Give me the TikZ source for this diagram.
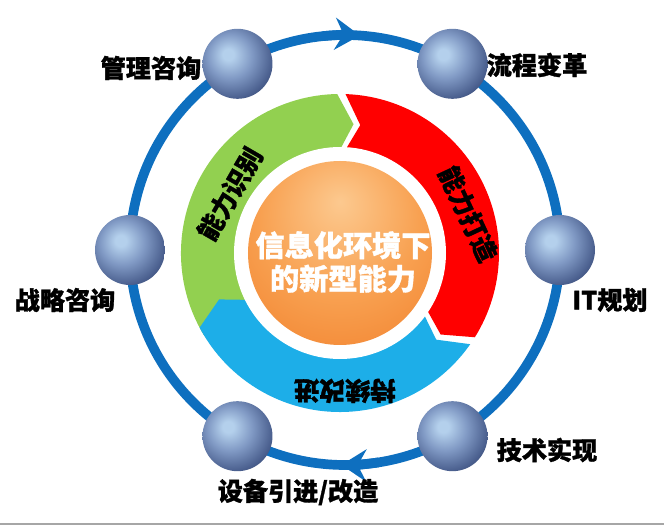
\documentclass[tikz,border=0pt]{standalone}
\usepackage{fontspec}
\usepackage{tikz}
\usepackage{xcolor}
\usetikzlibrary{arrows.meta, positioning, calc}
\setmainfont{Noto Sans CJK SC}[BoldFeatures={FakeBold=1.2}]
\definecolor{ringb}{HTML}{0E6FBF}
\definecolor{segg}{HTML}{92D050}
\definecolor{segr}{HTML}{FF0000}
\definecolor{segb}{HTML}{1DAEE8}
\definecolor{sphl}{HTML}{B4D0EC}
\definecolor{sphm}{HTML}{8099C4}
\definecolor{sphn}{HTML}{4A5F8E}
\definecolor{sphd}{HTML}{243258}
\definecolor{orgl}{HTML}{FCC98F}
\definecolor{orgm}{HTML}{F8A050}
\definecolor{orgd}{HTML}{EE721C}
\pgfdeclareradialshading{sphere}{\pgfpoint{-7bp}{7bp}}{color(0bp)=(sphl); color(4bp)=(sphl);
  color(16bp)=(sphm); color(29bp)=(sphn); color(40bp)=(sphd); color(75bp)=(sphd)}
\pgfdeclareradialshading{orb}{\pgfpoint{0bp}{14bp}}{color(0bp)=(orgl); color(22bp)=(orgm);
  color(52bp)=(orgd); color(75bp)=(orgd)}
\pgfdeclareradialshading{halo}{\pgfpoint{0bp}{0bp}}{color(0bp)=(white); color(43bp)=(white);
  color(44.5bp)=(black!22); color(47.5bp)=(black!10); color(50bp)=(white)}
\tikzset{
  ring/.style={draw=ringb, line width=5.5pt},
  ringarr/.style={ring, -{Stealth[length=0.5cm, width=0.64cm, inset=0.17cm]}},
  ball/.style={circle, minimum size=1.4cm, inner sep=0pt, shading=sphere},
  lbl/.style={font=\bfseries\fontsize{14.3}{17}\selectfont, inner sep=1pt},
  slbl/.style={font=\bfseries\fontsize{14.5}{17}\selectfont, inner sep=0pt},
  ctxt/.style={font=\bfseries\fontsize{16.6}{19}\selectfont, text=white, align=center},
}

\begin{document}
\begin{tikzpicture}[x=1cm, y=1cm]
  \useasboundingbox (-6.9,-5.54) rectangle (6.38,5.0);

  % ---------------- outer ring ----------------
  \draw[ring] (0,0) circle (4.3);
  \draw[ringarr] (96:4.3) arc[start angle=96, end angle=86, radius=4.3];
  \draw[ringarr] (-81:4.3) arc[start angle=-81, end angle=-91, radius=4.3];
  \foreach \a in {0,60,...,300}
    \node[ball] (s\a) at (\a:4.3) {};

  % ---------------- labels ----------------
  \node[lbl] (l120) at (-3.88,3.64) {管理咨询};
  \node[lbl] (l60) at (3.84,3.7) {流程变革};
  \node[lbl] (l180) at (-5.6,-1.0) {战略咨询};
  \node[lbl] (l0) at (5.3,-1.0) {IT规划};
  \node[lbl] (l300) at (4.04,-4.0) {技术实现};
  \node[lbl] (l240) at (-0.94,-4.84) {设备引进/改造};

  % ---------------- inner cycle ----------------
  \begin{scope}[shift={(-0.1,-0.06)}]
    \foreach \a/\b/\c in {211/91/segg, 88/-32/segr, -35/-152/segb}
      \fill[\c] (\a:3.18) arc[start angle=\a, end angle=\b, radius=3.18] -- ({\b-7}:2.59)
        -- (\b:2.0) arc[start angle=\b, end angle=\a, radius=2.0] -- ({\a-7}:2.59) -- cycle;
    \node[slbl, rotate=60] (t1) at (151.8:2.5) {能力识别};
    \node[slbl, rotate=-65] (t2) at (17:2.68) {能力打造};
    \node[slbl, rotate=180] (t3) at (-88:2.76) {持续改进};
    \shade[shading=halo] (0,0) circle (2.12);
    \node[circle, minimum size=3.68cm, inner sep=0pt, shading=orb] (core) at (0,0) {};
    \node[ctxt] (ctr) at (0.06,-0.18) {信息化环境下\\的新型能力};
  \end{scope}

  \draw[black!35, line width=0.8pt] (-6.9,-5.48) -- (6.38,-5.48);
\end{tikzpicture}
\end{document}
